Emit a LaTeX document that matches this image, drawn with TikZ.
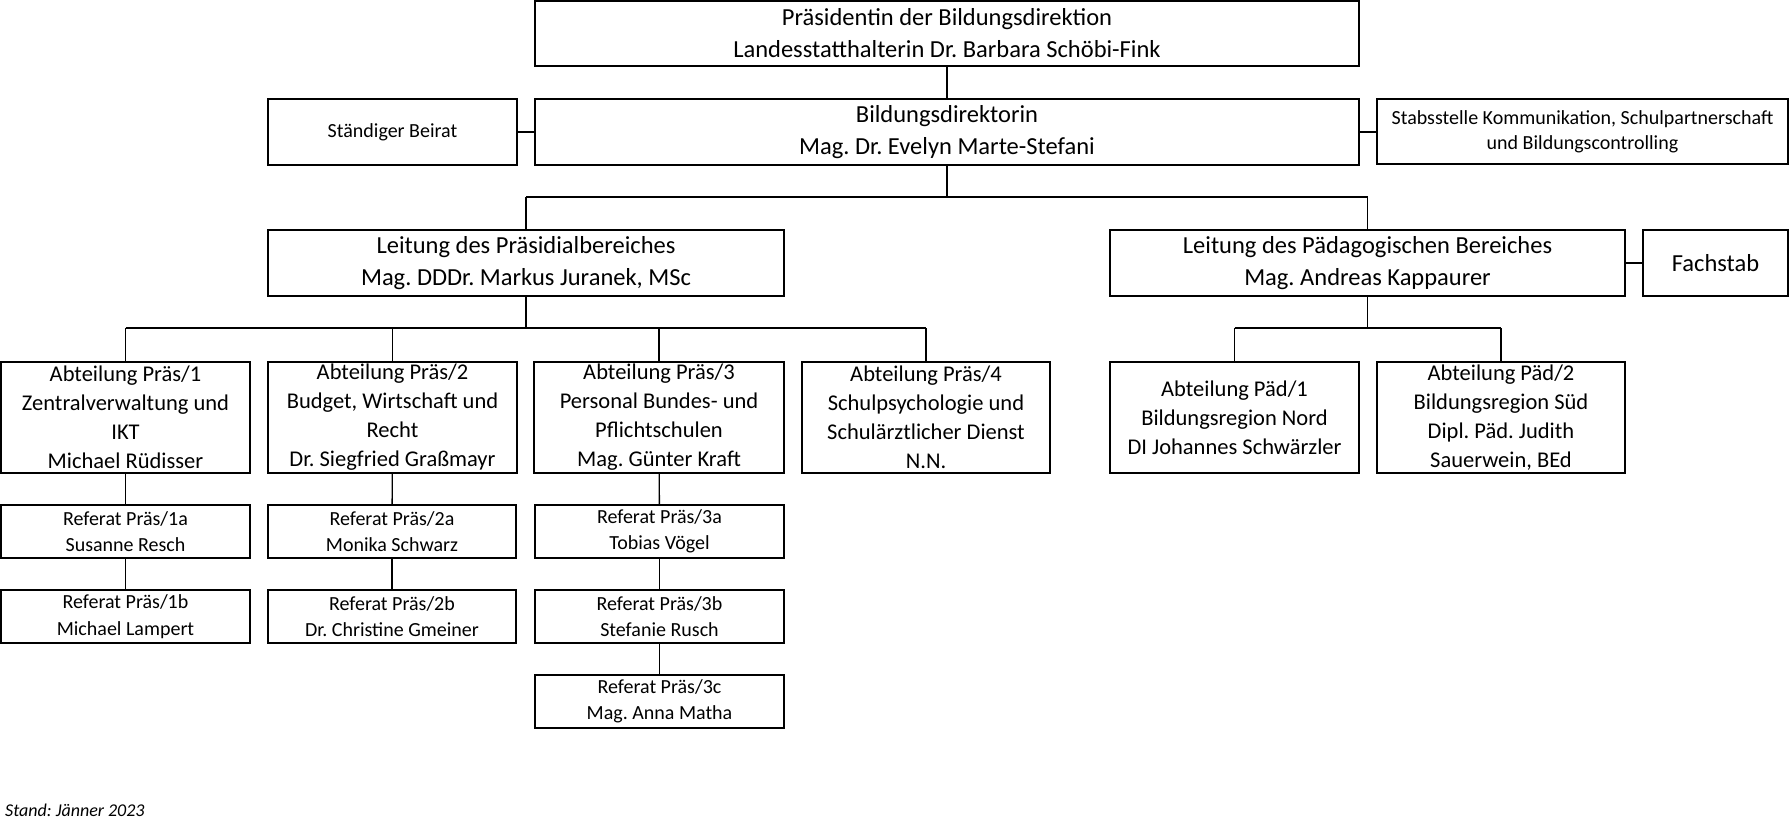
\documentclass[tikz,border=0pt]{standalone}
\usepackage{fontspec}
\setmainfont{Carlito}
\usetikzlibrary{calc}
\frenchspacing
\begin{document}
\frenchspacing
\begin{tikzpicture}[x=1pt,y=-1pt,
  box/.style={draw, line width=2.2pt, inner sep=0pt, align=center},
  wh/.style 2 args={minimum width=#1, minimum height=#2},
  big/.style={font=\fontsize{24.5}{32}\selectfont},
  mid/.style={font=\fontsize{22.5}{29}\selectfont},
  small/.style={font=\fontsize{20}{26.5}\selectfont},
  bus/.style={line width=2.2pt},
  stub/.style={line width=1.3pt}]
\useasboundingbox[fill=white] (0,0) rectangle (1790,827);

% top levels
\node[box, big, wh={824}{65}] (top) at (947,33.5) {Präsidentin der Bildungsdirektion\\Landesstatthalterin Dr. Barbara Schöbi-Fink};
\node[box, big, wh={824}{66}] (bd) at (947,132) {Bildungsdirektorin\\Mag. Dr. Evelyn Marte-Stefani};
\node[box, small, wh={249}{66}] (beirat) at (392.5,132) {Ständiger Beirat};
\node[box, font=\fontsize{20}{25}\selectfont, wh={411}{65}] (stab) at (1582.5,131.5) {Stabsstelle Kommunikation, Schulpartnerschaft\\und Bildungscontrolling};

\node[box, big, wh={516}{66}] (lp) at (526,263) {Leitung des Präsidialbereiches\\Mag. DDDr. Markus Juranek, MSc};
\node[box, big, wh={515}{66}] (lpd) at (1367.5,263) {Leitung des Pädagogischen Bereiches\\Mag. Andreas Kappaurer};
\node[box, big, wh={145}{66}] (fs) at (1715.5,263) {Fachstab};

% Abteilungen
\node[box, mid, wh={249}{111}] (p1) at (125.5,417.5) {Abteilung Präs/1\\Zentralverwaltung und\\IKT\\Michael Rüdisser};
\node[box, mid, wh={249}{111}] (p2) at (392.5,417.5) {Abteilung Präs/2\\Budget, Wirtschaft und\\Recht\\Dr. Siegfried Graßmayr};
\node[box, mid, wh={250}{111}] (p3) at (659,417.5) {Abteilung Präs/3\\Personal Bundes- und\\Pflichtschulen\\Mag. Günter Kraft};
\node[box, mid, wh={248}{111}] (p4) at (926,417.5) {Abteilung Präs/4\\Schulpsychologie und\\Schulärztlicher Dienst\\N.N.};
\node[box, mid, wh={249}{111}] (d1) at (1234.5,417.5) {Abteilung Päd/1\\Bildungsregion Nord\\DI Johannes Schwärzler};
\node[box, mid, wh={248}{111}] (d2) at (1501,417.5) {Abteilung Päd/2\\Bildungsregion Süd\\Dipl. Päd. Judith\\Sauerwein, BEd};

% Referate
\node[box, small, wh={249}{53}] (r1a) at (125.5,531.5) {Referat Präs/1a\\Susanne Resch};
\node[box, small, wh={249}{53}] (r1b) at (125.5,616.5) {Referat Präs/1b\\Michael Lampert};
\node[box, small, wh={248}{53}] (r2a) at (392,531.5) {Referat Präs/2a\\Monika Schwarz};
\node[box, small, wh={248}{53}] (r2b) at (392,616.5) {Referat Präs/2b\\Dr. Christine Gmeiner};
\node[box, small, wh={249}{53}] (r3a) at (659.5,531.5) {Referat Präs/3a\\Tobias Vögel};
\node[box, small, wh={249}{53}] (r3b) at (659.5,616.5) {Referat Präs/3b\\Stefanie Rusch};
\node[box, small, wh={249}{53}] (r3c) at (659.5,701.5) {Referat Präs/3c\\Mag. Anna Matha};

\node[anchor=base west, inner sep=0pt, font=\fontsize{18}{22}\selectfont\itshape] (stand) at (5,816) {Stand: Jänner 2023};

% connectors
\draw[stub] (top) -- (bd);
\draw[stub] (beirat) -- (bd);
\draw[stub] (bd.east) -- (bd.east -| stab.west);
\draw[stub] (lpd) -- (fs);

\coordinate (j1) at ($(bd.south)+(0,31)$);
\draw[stub] (bd.south) -- (j1);
\draw[bus] (lp.north |- j1) -- (lpd.north |- j1);
\draw[stub] (lp.north |- j1) -- (lp.north);
\draw[stub] (lpd.north |- j1) -- (lpd.north);

\coordinate (j2) at ($(lp.south)+(0,31)$);
\draw[stub] (lp.south) -- (j2);
\draw[bus] (p1.north |- j2) -- (p4.north |- j2);
\foreach \n in {p1,p2,p3,p4} \draw[stub] (\n.north |- j2) -- (\n.north);

\coordinate (j3) at ($(lpd.south)+(0,31)$);
\draw[stub] (lpd.south) -- (j3);
\draw[bus] (d1.north |- j3) -- (d2.north |- j3);
\foreach \n in {d1,d2} \draw[stub] (\n.north |- j3) -- (\n.north);

\draw[stub] (p1) -- (r1a);
\draw[stub] (r1a) -- (r1b);
\draw[stub] (p2) -- (r2a);
\draw[stub] (r2a) -- (r2b);
\draw[stub] (p3) -- (r3a);
\draw[stub] (r3a) -- (r3b);
\draw[stub] (r3b) -- (r3c);
\end{tikzpicture}
\end{document}
